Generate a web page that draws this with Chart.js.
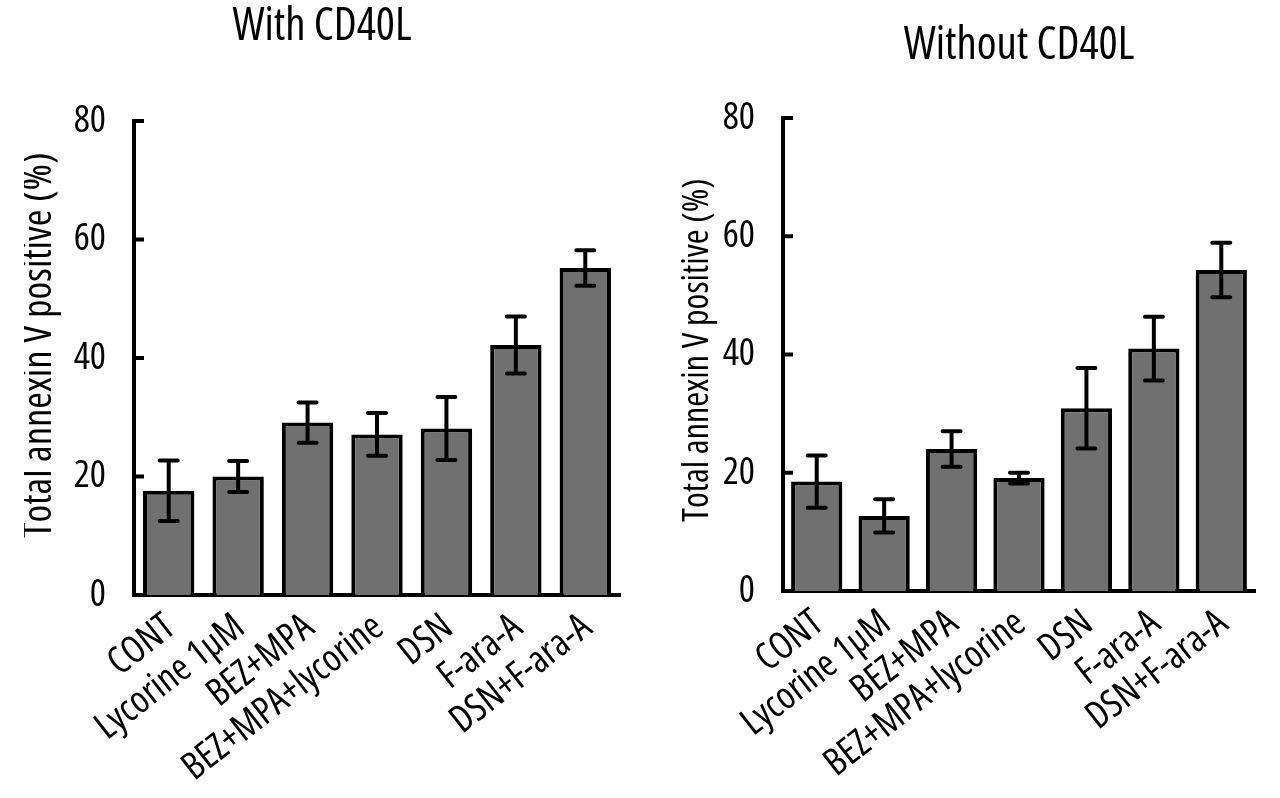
<!DOCTYPE html>
<html>
<head>
<meta charset="utf-8">
<script src="https://cdn.jsdelivr.net/npm/chart.js@4.4.1/dist/chart.umd.min.js"></script>
<style>
  html, body { margin: 0; padding: 0; background: #fff; overflow: hidden; width: 1280px; height: 798px; }
  .box { position: absolute; top: 0; height: 798px; }
  #leftBox { left: 24px; width: 616px; }
  #rightBox { left: 640px; width: 640px; }
</style>
</head>
<body>
<div class="box" id="leftBox"><canvas id="withChart"></canvas></div>
<div class="box" id="rightBox"><canvas id="withoutChart"></canvas></div>
<script>
// data
const categories = ['CONT', 'Lycorine 1\u03bcM', 'BEZ+MPA', 'BEZ+MPA+lycorine', 'DSN', 'F-ara-A', 'DSN+F-ara-A'];
const withCD40L = [17.6, 20.0, 29.1, 27.1, 28.1, 42.2, 55.2];
const withCD40LErr = [5.1, 2.6, 3.4, 3.6, 5.3, 4.8, 3.0];
const withoutCD40L = [18.5, 12.7, 24.0, 19.1, 30.9, 41.0, 54.3];
const withoutCD40LErr = [4.4, 2.8, 3.0, 0.9, 6.8, 5.4, 4.6];
const yTicks = [0, 20, 40, 60, 80];
const yTitle = 'Total annexin V positive (%)';

// condensed face, picked through font-stretch
const FAMILY = "'Open Sans', 'DejaVu Sans Condensed', sans-serif";
const STRETCH = 'condensed';
Chart.defaults.font.family = FAMILY;
Chart.defaults.font.weight = STRETCH;
Chart.defaults.color = '#000';

// error bars + inward y ticks
const errorBars = {
  id: 'errorBars',
  afterDatasetsDraw(chart, args, opts) {
    const ctx = chart.ctx;
    const y = chart.scales.y;
    const ds = chart.data.datasets[0];
    const meta = chart.getDatasetMeta(0);
    ctx.save();
    ctx.strokeStyle = '#000';
    ctx.lineWidth = opts.width;
    ctx.lineCap = 'round';
    ctx.beginPath();
    meta.data.forEach((bar, i) => {
      const v = ds.data[i], e = ds.errors[i];
      const top = y.getPixelForValue(v + e);
      const bot = y.getPixelForValue(v - e);
      ctx.moveTo(bar.x, top); ctx.lineTo(bar.x, bot);
      ctx.moveTo(bar.x - opts.cap, top); ctx.lineTo(bar.x + opts.cap, top);
      ctx.moveTo(bar.x - opts.cap, bot); ctx.lineTo(bar.x + opts.cap, bot);
    });
    ctx.stroke();
    ctx.lineCap = 'butt';
    ctx.beginPath();
    y.ticks.forEach(t => {
      if (t.value === 0) return;
      const py = y.getPixelForValue(t.value);
      ctx.moveTo(chart.chartArea.left, py);
      ctx.lineTo(chart.chartArea.left + opts.tick, py);
    });
    ctx.stroke();
    ctx.restore();
  }
};

// vertical axis title, sized to a given length
const sideLabel = {
  id: 'sideLabel',
  afterDraw(chart, args, o) {
    const ctx = chart.ctx;
    ctx.save();
    ctx.font = STRETCH + ' 40px ' + FAMILY;
    const size = 40 * o.length / ctx.measureText(o.text).width;
    ctx.font = STRETCH + ' ' + size.toFixed(1) + 'px ' + FAMILY;
    ctx.translate(o.x, o.y);
    ctx.rotate(-Math.PI / 2);
    ctx.fillStyle = '#000';
    ctx.textAlign = 'center';
    ctx.textBaseline = 'middle';
    ctx.fillText(o.text, 0, 0);
    ctx.restore();
  }
};

function makeChart(id, cfg) {
  return new Chart(document.getElementById(id), {
    type: 'bar',
    data: {
      labels: categories,
      datasets: [{
        data: cfg.values,
        errors: cfg.errors,
        backgroundColor: '#707070',
        borderColor: '#000',
        borderWidth: 4,
        categoryPercentage: 1,
        barPercentage: cfg.barPct
      }]
    },
    options: {
      responsive: true,
      maintainAspectRatio: false,
      animation: false,
      layout: { padding: { left: 0, right: cfg.padRight, top: 0, bottom: 0 } },
      plugins: {
        legend: { display: false },
        tooltip: { enabled: false },
        title: {
          display: true,
          text: cfg.title,
          color: '#000',
          fullSize: cfg.titleFull,
          font: { size: 45, weight: STRETCH },
          padding: { top: cfg.titleTop, bottom: cfg.titleBottom }
        },
        errorBars: { width: 4, cap: 9, tick: 10 },
        sideLabel: { text: yTitle, x: cfg.labelX, y: cfg.labelY, length: cfg.labelLen }
      },
      scales: {
        x: {
          grid: { display: false },
          border: { display: true, color: '#000', width: 4 },
          ticks: {
            autoSkip: false,
            maxRotation: 38,
            minRotation: 38,
            labelOffset: 2,
            padding: 2,
            font: { size: 38, weight: STRETCH }
          },
          afterFit: s => { s.height = cfg.xHeight; }
        },
        y: {
          min: 0,
          max: 80,
          afterBuildTicks: s => { s.ticks = yTicks.map(v => ({ value: v })); },
          grid: { display: false },
          border: { display: true, color: '#000', width: 4 },
          ticks: { padding: 20, font: { size: 38, weight: STRETCH } },
          afterFit: s => { s.width = cfg.yWidth; }
        }
      }
    },
    plugins: [errorBars, sideLabel]
  });
}

makeChart('withChart', {
  title: 'With CD40L',
  titleFull: true,
  values: withCD40L,
  errors: withCD40LErr,
  barPct: 0.74,
  padRight: 20,
  titleTop: 0,
  titleBottom: 67,
  yWidth: 110,
  xHeight: 203,
  labelX: 15,
  labelY: 345,
  labelLen: 385
});

makeChart('withoutChart', {
  title: 'Without CD40L',
  titleFull: false,
  values: withoutCD40L,
  errors: withoutCD40LErr,
  barPct: 0.76,
  padRight: 25,
  titleTop: 19,
  titleBottom: 45,
  yWidth: 143,
  xHeight: 207,
  labelX: 58,
  labelY: 350,
  labelLen: 344
});
</script>
</body>
</html>
